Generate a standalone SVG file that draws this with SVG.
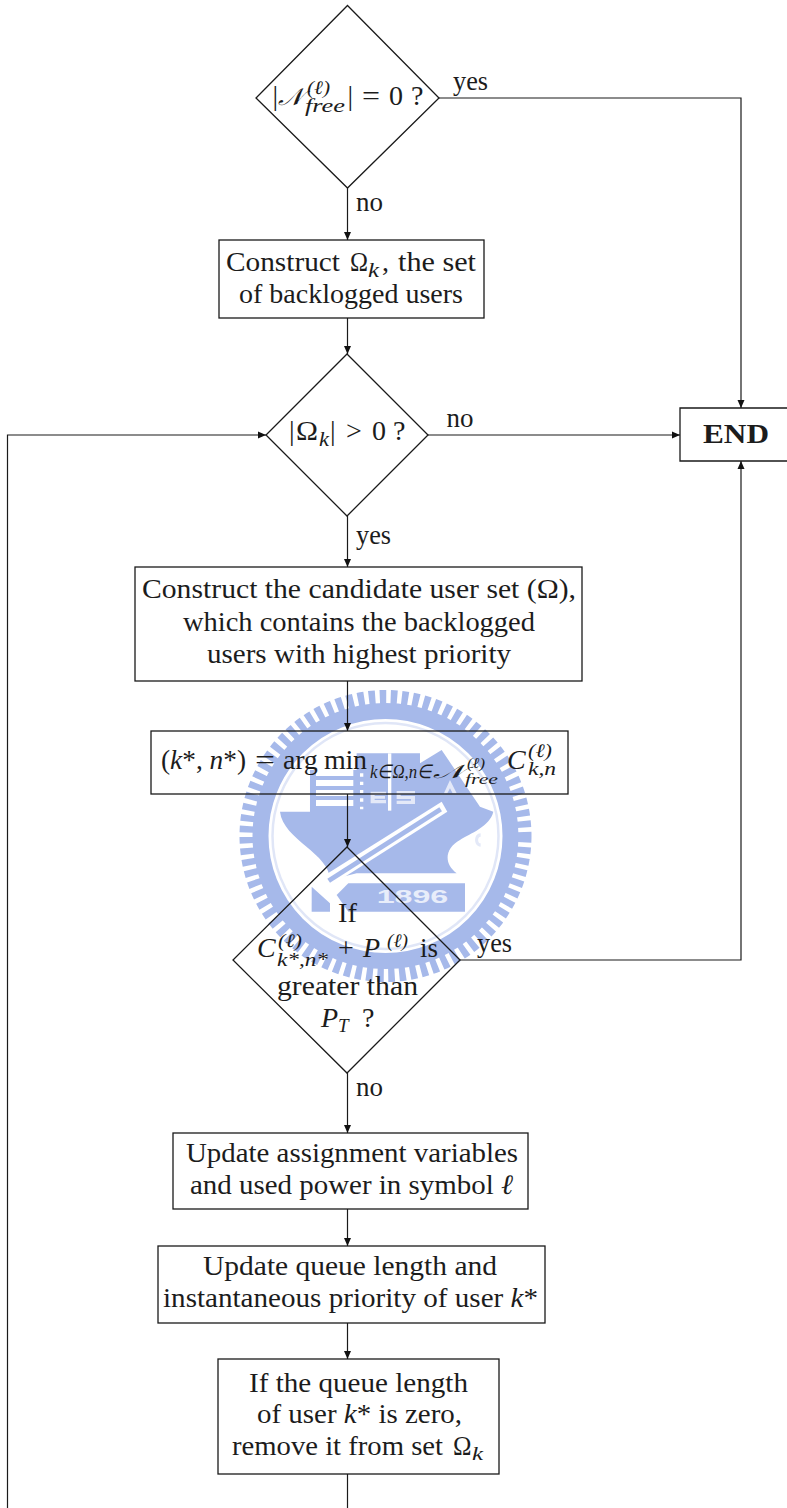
<svg xmlns="http://www.w3.org/2000/svg" width="787" height="1508" viewBox="0 0 787 1508">
<style>
text{font-family:"Liberation Serif","Times New Roman",serif;font-size:28px;fill:#1c1c1c}
.i{font-style:italic}
.s{font-size:21px;font-style:italic}
.m{font-size:19px;font-style:italic}
.x{font-size:15px;font-style:italic}
.n{fill:none;stroke:#1a1a1a;stroke-width:1.3}
.l{fill:none;stroke:#1a1a1a;stroke-width:1.2}
.b{fill:#a6b9ea;stroke:none}
.w{fill:#fff;stroke:none}
.p{fill:#e4e9f8;stroke:none}
</style>
<defs>
<marker id="a" markerUnits="userSpaceOnUse" markerWidth="9" markerHeight="8" refX="8" refY="4" orient="auto"><path d="M0 .500L8 4L0 7.500Z" fill="#111"/></marker>
</defs>
<rect width="787" height="1508" fill="#fff"/>
<g id="watermark">
<circle cx="385.500" cy="836" r="139" fill="none" stroke="#a6b9ea" stroke-width="14" stroke-dasharray="6.500 4.500"/>
<circle cx="385.500" cy="836" r="125" fill="none" stroke="#a6b9ea" stroke-width="16"/>
<circle cx="385.500" cy="836" r="113" fill="none" stroke="#e0e6f7" stroke-width="2.500"/>
<g transform="translate(230 690) scale(.3333)">
<path class="b" d="M240 240H380V190H570V220L635 180L750 350L790 365C780 410 720 430 690 450C645 475 640 520 680 550H380L300 570C300 490 160 450 150 365H240Z"/>
<path class="w" d="M258 240H370V258H258ZM258 270H370V288H258ZM258 300H370V318H258ZM258 330H370V348H258Z"/>
<path class="w" d="M390 250h10v10h-10zM390 275h10v10h-10zM390 300h10v10h-10zM390 325h10v10h-10zM390 350h10v8h-10z"/>
<path class="p" d="M422 305H468V315H434V318H465V326H434V330H468V340H422Z"/>
<rect class="w" x="474" y="190" width="10" height="172"/>
<path class="p" d="M500 303H555V313H512V318H555V342H500V332H543V327H500Z"/>
<path class="p" d="M660 270L680 310H668L660 295L652 310H642Z"/>
<path class="w" d="M270 565L635 335L652 365L295 592Z"/>
<path class="b" d="M292 566L628 352L636 364L300 578Z"/>
<path class="p" d="M752 430C730 430 730 470 752 470V460C742 460 742 440 752 440Z"/>
<path class="b" d="M355 580H705V665H355L320 615Z"/>
<path class="b" d="M245 590L300 640V665H245Z"/>
<text x="440" y="640" textLength="215" lengthAdjust="spacingAndGlyphs" style="font-family:'Liberation Sans',sans-serif;font-weight:bold;font-size:54px;fill:#e8edfa">1896</text>
</g>
</g>
<g id="connectors">
<path class="l" d="M439 98H741V408" marker-end="url(#a)"/>
<path class="l" d="M347.500 188V240" marker-end="url(#a)"/>
<path class="l" d="M347.500 318V354" marker-end="url(#a)"/>
<path class="l" d="M428 435H680" marker-end="url(#a)"/>
<path class="l" d="M347.500 516V567" marker-end="url(#a)"/>
<path class="l" d="M347.500 681V731" marker-end="url(#a)"/>
<path class="l" d="M347.500 794V847" marker-end="url(#a)"/>
<path class="l" d="M460 960H741V461" marker-end="url(#a)"/>
<path class="l" d="M347.500 1073V1133" marker-end="url(#a)"/>
<path class="l" d="M347.500 1209V1246" marker-end="url(#a)"/>
<path class="l" d="M347.500 1323V1359" marker-end="url(#a)"/>
<path class="l" d="M347.500 1474V1508"/>
<path class="l" d="M7.500 1508V435H266" marker-end="url(#a)"/>
<text x="453" y="90" textLength="35" lengthAdjust="spacingAndGlyphs">yes</text>
<text x="356" y="211" textLength="27" lengthAdjust="spacingAndGlyphs">no</text>
<text x="446.500" y="427" textLength="27" lengthAdjust="spacingAndGlyphs">no</text>
<text x="356" y="544" textLength="35" lengthAdjust="spacingAndGlyphs">yes</text>
<text x="477" y="952" textLength="35" lengthAdjust="spacingAndGlyphs">yes</text>
<text x="356" y="1096" textLength="27" lengthAdjust="spacingAndGlyphs">no</text>
</g>
<g id="d1">
<path class="n" d="M347.500 5.500L439 98L347.500 188L256 98Z"/>
<text x="272.500" y="105">|</text><text x="278" y="105" class="i" style="font-size:24px" textLength="25" lengthAdjust="spacingAndGlyphs">𝒩</text>
<text x="307" y="94" class="m" textLength="23" lengthAdjust="spacingAndGlyphs">(ℓ)</text><text x="305" y="112" class="m" textLength="40" lengthAdjust="spacingAndGlyphs">free</text>
<text x="347.500" y="105">|</text><text x="362" y="105" textLength="18" lengthAdjust="spacingAndGlyphs">=</text><text x="389" y="105">0</text><text x="411" y="105">?</text>
</g>
<g id="b1">
<rect class="n" x="219" y="240" width="265" height="78"/>
<text x="226" y="271" textLength="114" lengthAdjust="spacingAndGlyphs">Construct</text><text x="350" y="271" textLength="18" lengthAdjust="spacingAndGlyphs">Ω</text><text x="368" y="277" class="s" textLength="11" lengthAdjust="spacingAndGlyphs">k</text><text x="382" y="271">,</text><text x="398" y="271" textLength="78" lengthAdjust="spacingAndGlyphs">the set</text>
<text x="239" y="303" textLength="224">of backlogged users</text>
</g>
<g id="d2">
<path class="n" d="M347 354L428 435L347 516L266 435Z"/>
<text x="289" y="440">|</text><text x="296" y="440" textLength="22" lengthAdjust="spacingAndGlyphs">Ω</text><text x="319" y="446" class="s" textLength="10" lengthAdjust="spacingAndGlyphs">k</text><text x="330" y="440">|</text><text x="346" y="440">&gt;</text><text x="372" y="440">0</text><text x="393" y="440">?</text>
</g>
<g id="end">
<path class="n" d="M787 408H680V461H787"/>
<text x="703" y="443" textLength="66" lengthAdjust="spacingAndGlyphs" style="font-weight:bold">END</text>
</g>
<g id="b2">
<rect class="n" x="135" y="567" width="447" height="114"/>
<text x="142" y="598" textLength="434" lengthAdjust="spacingAndGlyphs">Construct the candidate user set (Ω),</text>
<text x="183" y="631" textLength="352" lengthAdjust="spacingAndGlyphs">which contains the backlogged</text>
<text x="207" y="663" textLength="304" lengthAdjust="spacingAndGlyphs">users with highest priority</text>
</g>
<g id="b3">
<rect class="n" x="151" y="731" width="417" height="63"/>
<text x="161" y="769" textLength="85" lengthAdjust="spacingAndGlyphs">(<tspan class="i">k</tspan>*, <tspan class="i">n</tspan>*)</text>
<text x="255" y="769" textLength="20" lengthAdjust="spacingAndGlyphs">=</text><text x="283" y="769" textLength="84">arg min</text>
<text x="370" y="778" class="m" textLength="62" lengthAdjust="spacingAndGlyphs">k∈Ω,n∈</text><text x="433" y="778" class="m" textLength="31" lengthAdjust="spacingAndGlyphs">𝒩</text><text x="467" y="768" class="x" textLength="18" lengthAdjust="spacingAndGlyphs">(ℓ)</text><text x="465" y="784" class="x" textLength="33" lengthAdjust="spacingAndGlyphs">free</text>
<text x="507" y="769" class="i">C</text><text x="528" y="757" class="m" textLength="24" lengthAdjust="spacingAndGlyphs">(ℓ)</text><text x="528" y="775" class="m" textLength="28" lengthAdjust="spacingAndGlyphs">k,n</text>
</g>
<g id="d3">
<path class="n" d="M347 847L460 960L347 1073L233 960Z"/>
<text x="338" y="922" textLength="19" lengthAdjust="spacingAndGlyphs">If</text>
<text x="257" y="957" class="i">C</text><text x="278" y="947" class="m" textLength="24" lengthAdjust="spacingAndGlyphs">(ℓ)</text><text x="277" y="966" class="m" textLength="51" lengthAdjust="spacingAndGlyphs">k*,n*</text>
<text x="338" y="957">+</text><text x="363" y="957" class="i">P</text><text x="387" y="947" class="m" textLength="21" lengthAdjust="spacingAndGlyphs">(ℓ)</text><text x="420" y="957" textLength="18" lengthAdjust="spacingAndGlyphs">is</text>
<text x="277" y="995" textLength="141" lengthAdjust="spacingAndGlyphs">greater than</text>
<text x="321" y="1027" class="i">P</text><text x="338" y="1032" class="m">T</text><text x="362" y="1027">?</text>
</g>
<g id="b4">
<rect class="n" x="173" y="1133" width="355" height="76"/>
<text x="186" y="1162" textLength="332" lengthAdjust="spacingAndGlyphs">Update assignment variables</text>
<text x="190" y="1194" textLength="323" lengthAdjust="spacingAndGlyphs">and used power in symbol <tspan class="i">ℓ</tspan></text>
</g>
<g id="b5">
<rect class="n" x="158" y="1246" width="387" height="77"/>
<text x="203" y="1275" textLength="294" lengthAdjust="spacingAndGlyphs">Update queue length and</text>
<text x="163" y="1307" textLength="375" lengthAdjust="spacingAndGlyphs">instantaneous priority of user <tspan class="i">k</tspan>*</text>
</g>
<g id="b6">
<rect class="n" x="218" y="1359" width="281" height="115"/>
<text x="249" y="1392" textLength="219" lengthAdjust="spacingAndGlyphs">If the queue length</text>
<text x="257" y="1423" textLength="205" lengthAdjust="spacingAndGlyphs">of user <tspan class="i">k</tspan>* is zero,</text>
<text x="232" y="1455" textLength="211" lengthAdjust="spacingAndGlyphs">remove it from set</text><text x="453" y="1455" textLength="18.500" lengthAdjust="spacingAndGlyphs">Ω</text><text x="472" y="1460" class="s" style="font-size:18px" textLength="11" lengthAdjust="spacingAndGlyphs">k</text>
</g>
</svg>
